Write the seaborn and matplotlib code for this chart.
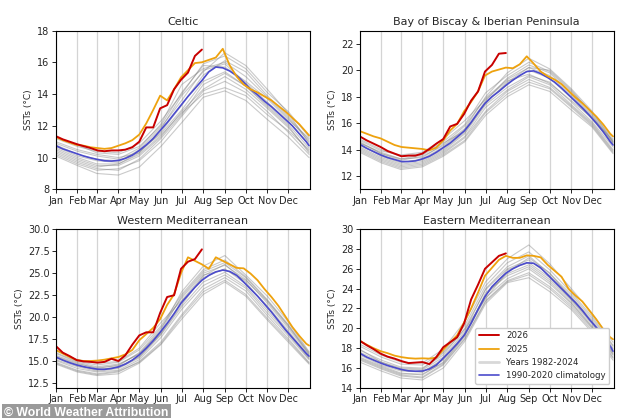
import pandas as pd
import matplotlib
matplotlib.use('Agg')
import matplotlib.pyplot as plt
from matplotlib.lines import Line2D
import seaborn as sns

# Données (jour de l'année -> SST en °C)
days = [0, 10, 20, 30, 40, 50, 60, 70, 80, 90, 100, 110, 120, 130, 140, 150, 160, 170,
        180, 190, 200, 210, 220, 230, 240, 250, 260, 270, 280, 290, 300, 310, 320, 330,
        340, 350, 360, 364]
month_days = [0, 31, 59, 90, 120, 151, 181, 212, 243, 273, 304, 334, 364]
month_ticks = [0, 31, 59, 90, 120, 151, 181, 212, 243, 273, 304, 334]
month_labels = ['Jan', 'Feb', 'Mar', 'Apr', 'May', 'Jun', 'Jul', 'Aug', 'Sep', 'Oct', 'Nov', 'Dec']

# --- Celtic
celtic_clim = [10.75, 10.55, 10.4, 10.25, 10.1, 9.98, 9.88, 9.8, 9.78, 9.82,
               9.95, 10.15, 10.45, 10.8, 11.2, 11.7, 12.2, 12.75, 13.3, 13.85,
               14.35, 14.85, 15.4, 15.7, 15.65, 15.45, 15.15, 14.75, 14.3, 13.95,
               13.55, 13.2, 12.8, 12.4, 12.0, 11.5, 11.0, 10.75]
celtic_2025 = [11.3, 11.1, 10.95, 10.8, 10.75, 10.65, 10.6, 10.55, 10.6, 10.75,
               10.9, 11.1, 11.45, 12.15, 13.0, 13.9, 13.6, 14.3, 15.05, 15.5,
               15.95, 16.0, 16.15, 16.3, 16.85, 15.8, 15.1, 14.6, 14.3, 14.1,
               13.85, 13.6, 13.25, 12.9, 12.5, 12.1, 11.6, 11.4]
celtic_2026 = [11.35, 11.15, 11.0, 10.85, 10.72, 10.6, 10.45, 10.4, 10.45, 10.45,
               10.5, 10.65, 11.0, 11.9, 11.9, 13.1, 13.3, 14.3, 14.9, 15.35,
               16.4, 16.8]
celtic_years = [
    [11.2, 10.7, 10.4, 10.3, 10.9, 12.3, 14.0, 15.9, 16.4, 15.6, 14.1, 12.9, 11.3],
    [10.2, 9.6, 9.2, 9.3, 9.8, 11.0, 12.6, 14.2, 14.8, 14.1, 12.9, 11.6, 10.2],
    [10.9, 10.4, 10.1, 9.9, 10.6, 12.1, 14.6, 15.6, 16.0, 15.1, 13.8, 12.5, 11.0],
    [10.5, 9.9, 9.5, 9.5, 10.1, 11.3, 12.9, 14.3, 15.1, 14.3, 13.1, 11.9, 10.4],
    [11.0, 10.5, 10.2, 10.0, 10.3, 11.6, 13.3, 15.2, 16.1, 15.4, 13.9, 12.6, 11.1],
    [10.1, 9.5, 9.0, 8.9, 9.4, 10.7, 12.2, 13.8, 14.2, 13.6, 12.4, 11.3, 10.0],
    [10.7, 10.1, 9.8, 9.7, 10.5, 11.9, 13.6, 15.5, 15.9, 14.7, 13.5, 12.3, 10.8],
    [10.4, 9.8, 9.4, 9.6, 10.2, 11.4, 12.8, 14.0, 14.4, 13.9, 12.7, 11.7, 10.5],
    [11.3, 10.8, 10.3, 10.2, 10.7, 12.0, 14.1, 15.8, 15.7, 14.8, 13.7, 12.4, 11.2],
    [10.3, 9.7, 9.3, 9.2, 9.9, 11.2, 12.7, 14.6, 15.3, 14.5, 13.2, 12.0, 10.3],
    [10.6, 10.0, 9.6, 9.6, 10.3, 11.8, 13.9, 15.4, 16.6, 15.8, 14.3, 12.8, 10.9],
    [10.8, 10.2, 9.9, 9.8, 10.4, 11.5, 13.0, 14.8, 15.4, 14.5, 13.3, 12.1, 10.6],
]

# --- Bay of Biscay & Iberian Peninsula
biscay_clim = [14.4, 14.1, 13.85, 13.6, 13.4, 13.25, 13.1, 13.1, 13.15, 13.3,
               13.5, 13.8, 14.15, 14.5, 14.95, 15.4, 16.05, 16.8, 17.5, 18.0,
               18.4, 18.85, 19.25, 19.6, 19.9, 19.95, 19.75, 19.45, 19.1, 18.65,
               18.15, 17.65, 17.15, 16.6, 16.0, 15.35, 14.6, 14.35]
biscay_2025 = [15.4, 15.2, 15.0, 14.85, 14.6, 14.35, 14.2, 14.15, 14.1, 14.05,
               13.95, 14.15, 14.7, 15.45, 15.95, 16.9, 17.6, 18.4, 19.6, 19.9,
               20.05, 20.2, 20.15, 20.45, 21.05, 20.5, 19.9, 19.55, 19.3, 18.95,
               18.45, 17.95, 17.5, 17.0, 16.5, 15.9, 15.2, 15.0]
biscay_2026 = [15.0, 14.7, 14.45, 14.2, 13.9, 13.7, 13.5, 13.55, 13.55, 13.7,
               14.05, 14.45, 14.8, 15.75, 15.95, 16.7, 17.7, 18.4, 19.9, 20.4,
               21.25, 21.3]
biscay_years = [
    [14.8, 14.0, 13.5, 13.7, 14.6, 15.9, 18.3, 19.6, 20.6, 19.9, 18.4, 16.8, 14.8],
    [13.9, 13.1, 12.6, 12.8, 13.6, 14.7, 16.8, 18.2, 19.1, 18.6, 17.2, 15.8, 13.8],
    [14.5, 13.8, 13.3, 13.4, 14.4, 15.8, 17.9, 19.3, 20.2, 19.6, 18.1, 16.5, 14.5],
    [14.1, 13.3, 12.8, 13.0, 13.8, 15.0, 17.2, 18.5, 19.5, 18.9, 17.4, 16.0, 14.0],
    [14.6, 13.7, 13.2, 13.5, 14.3, 15.6, 18.0, 19.8, 20.9, 20.1, 18.6, 16.9, 14.6],
    [14.0, 13.2, 12.7, 12.9, 13.7, 14.9, 16.9, 18.4, 19.3, 18.7, 17.3, 15.9, 13.9],
    [14.3, 13.6, 13.1, 13.2, 14.0, 15.3, 17.6, 19.0, 20.0, 19.4, 17.9, 16.3, 14.4],
    [14.7, 13.9, 13.6, 13.8, 14.8, 16.2, 17.8, 19.2, 19.7, 19.0, 17.7, 16.4, 14.7],
    [14.2, 13.4, 12.9, 13.1, 13.9, 15.2, 17.4, 18.7, 19.6, 19.1, 17.6, 16.1, 14.2],
    [14.4, 13.5, 13.0, 13.3, 14.2, 15.5, 17.7, 19.4, 20.4, 19.8, 18.2, 16.6, 14.5],
    [13.8, 13.0, 12.5, 12.7, 13.5, 14.6, 16.6, 18.0, 18.9, 18.4, 17.0, 15.7, 13.7],
    [14.5, 13.7, 13.3, 13.6, 14.5, 15.4, 17.5, 19.1, 20.2, 20.0, 18.5, 16.7, 14.6],
]

# --- Western Mediterranean
wmed_clim = [15.5, 15.15, 14.85, 14.6, 14.4, 14.25, 14.12, 14.1, 14.2, 14.38,
             14.7, 15.15, 15.75, 16.5, 17.35, 18.3, 19.3, 20.4, 21.6, 22.5,
             23.4, 24.2, 24.75, 25.15, 25.35, 25.2, 24.75, 24.0, 23.2, 22.4,
             21.5, 20.6, 19.6, 18.6, 17.7, 16.8, 15.9, 15.6]
wmed_2025 = [16.3, 15.9, 15.5, 15.15, 15.05, 15.05, 15.1, 15.2, 15.35, 15.5,
             15.8, 16.3, 17.4, 18.1, 18.8, 19.8, 21.4, 22.6, 25.0, 26.8,
             26.4, 26.0, 25.5, 26.8, 26.4, 26.0, 25.6, 25.55, 24.95, 24.2,
             23.2, 22.3, 21.3, 20.1, 18.9, 17.9, 17.0, 16.8]
wmed_2026 = [16.75, 16.0, 15.6, 15.15, 15.0, 14.95, 14.87, 14.95, 15.3, 15.05,
             15.7, 16.9, 17.95, 18.3, 18.3, 20.5, 22.3, 22.5, 25.5, 26.3,
             26.6, 27.7]
wmed_years = [
    [16.0, 15.0, 14.6, 14.9, 16.3, 19.0, 22.6, 25.4, 26.5, 24.6, 22.0, 19.2, 16.0],
    [14.8, 13.9, 13.5, 13.8, 15.0, 17.2, 20.3, 23.2, 24.5, 23.0, 20.2, 17.6, 14.9],
    [15.6, 14.7, 14.3, 14.5, 16.0, 18.8, 22.2, 25.0, 25.9, 24.3, 21.6, 18.8, 15.7],
    [15.1, 14.2, 13.8, 14.0, 15.2, 17.7, 20.9, 23.6, 24.8, 23.3, 20.5, 17.9, 15.2],
    [15.9, 14.9, 14.4, 14.7, 15.8, 18.6, 22.9, 25.8, 27.0, 24.8, 22.4, 19.5, 16.1],
    [14.9, 14.0, 13.6, 13.9, 14.9, 17.0, 20.1, 22.9, 24.2, 22.6, 19.9, 17.4, 14.8],
    [15.4, 14.5, 14.1, 14.3, 15.6, 18.2, 21.8, 24.5, 25.5, 23.8, 21.3, 18.5, 15.5],
    [16.2, 15.2, 14.8, 15.0, 16.5, 19.4, 21.9, 24.8, 25.4, 24.2, 21.8, 19.0, 15.9],
    [15.2, 14.4, 13.9, 14.2, 15.4, 18.0, 21.2, 24.0, 25.1, 23.5, 20.8, 18.1, 15.3],
    [15.7, 14.8, 14.2, 14.6, 15.9, 18.4, 22.4, 25.2, 26.2, 24.5, 21.9, 19.1, 15.8],
    [14.7, 13.8, 13.4, 13.6, 14.8, 16.9, 19.8, 22.6, 24.0, 22.4, 19.7, 17.2, 14.7],
    [15.5, 14.6, 14.0, 14.4, 15.5, 18.1, 21.4, 24.7, 26.0, 24.0, 21.1, 18.3, 15.4],
]

# --- Eastern Mediterranean
emed_clim = [17.5, 17.1, 16.8, 16.5, 16.25, 16.05, 15.85, 15.72, 15.68, 15.7,
             15.9, 16.3, 17.0, 17.7, 18.45, 19.3, 20.5, 21.9, 23.2, 24.2,
             24.9, 25.55, 26.0, 26.35, 26.6, 26.55, 26.1, 25.4, 24.7, 24.0,
             23.3, 22.6, 21.8, 20.9, 20.1, 19.2, 18.2, 17.7]
emed_2025 = [18.75, 18.35, 18.0, 17.7, 17.5, 17.25, 17.1, 17.0, 16.95, 16.98,
             16.95, 17.05, 17.85, 18.6, 19.3, 20.6, 22.0, 23.6, 25.3, 26.1,
             26.9, 27.3, 27.1, 27.1, 27.35, 27.3, 27.15, 26.4, 25.8, 25.2,
             24.0, 23.3, 22.7, 21.8, 20.9, 19.9, 19.1, 18.9]
emed_2026 = [18.75, 18.3, 17.9, 17.45, 17.15, 16.95, 16.7, 16.5, 16.55, 16.6,
             16.4, 17.1, 18.1, 18.6, 19.1, 20.5, 22.9, 24.4, 26.0, 26.65,
             27.3, 27.55]
emed_years = [
    [18.2, 17.1, 16.4, 16.3, 17.6, 20.3, 24.3, 26.6, 27.7, 25.9, 23.6, 21.2, 18.3],
    [16.8, 15.9, 15.2, 15.0, 16.3, 18.9, 22.7, 24.7, 25.4, 24.0, 22.1, 19.8, 17.0],
    [17.8, 16.8, 16.1, 16.0, 17.3, 20.0, 23.9, 26.0, 26.9, 25.3, 23.2, 20.8, 18.0],
    [17.1, 16.2, 15.5, 15.3, 16.6, 19.3, 23.1, 25.0, 26.0, 24.5, 22.5, 20.1, 17.3],
    [18.4, 17.3, 16.6, 16.5, 17.9, 20.7, 24.7, 27.0, 28.4, 26.5, 24.0, 21.5, 18.6],
    [16.6, 15.7, 15.0, 14.8, 16.0, 18.7, 22.5, 24.6, 25.1, 23.7, 21.9, 19.6, 16.8],
    [17.4, 16.5, 15.8, 15.6, 16.9, 19.5, 23.4, 25.5, 26.4, 24.9, 22.8, 20.4, 17.6],
    [17.9, 16.6, 16.0, 15.9, 17.5, 19.9, 23.0, 25.7, 27.1, 25.6, 23.0, 20.6, 17.9],
    [17.0, 16.1, 15.4, 15.4, 16.5, 19.2, 23.6, 25.3, 26.2, 24.7, 22.6, 20.2, 17.4],
    [17.6, 16.6, 15.9, 15.8, 17.1, 19.7, 24.0, 26.2, 27.3, 25.5, 23.4, 21.0, 18.2],
    [16.9, 16.0, 15.3, 15.1, 16.4, 19.0, 22.8, 24.8, 25.6, 24.2, 22.3, 20.0, 17.1],
    [17.3, 16.3, 15.7, 15.6, 16.8, 19.4, 23.3, 25.9, 26.6, 25.1, 22.9, 20.6, 17.5],
]

# Style
sns.set_style("ticks")
plt.rcParams['font.family'] = 'DejaVu Sans'

RED = '#c80000'
ORANGE = '#eea20e'
BLUE = '#4b4bcc'

panels = [
    ('Celtic', celtic_clim, celtic_2025, celtic_2026, celtic_years,
     (8, 18), [8, 10, 12, 14, 16, 18], '{:.0f}'),
    ('Bay of Biscay & Iberian Peninsula', biscay_clim, biscay_2025, biscay_2026, biscay_years,
     (11, 23), [12, 14, 16, 18, 20, 22], '{:.0f}'),
    ('Western Mediterranean', wmed_clim, wmed_2025, wmed_2026, wmed_years,
     (12, 30), [12.5, 15, 17.5, 20, 22.5, 25, 27.5, 30], '{:.1f}'),
    ('Eastern Mediterranean', emed_clim, emed_2025, emed_2026, emed_years,
     (14, 30), [14, 16, 18, 20, 22, 24, 26, 28, 30], '{:.0f}'),
]

fig, axes = plt.subplots(2, 2, figsize=(6.34, 4.18), dpi=100)
fig.subplots_adjust(left=0.088, right=0.968, bottom=0.072, top=0.927,
                    wspace=0.197, hspace=0.25)

for ax, (title, clim, y2025, y2026, years, ylim, yticks, fmt) in zip(axes.flat, panels):
    # Années 1982-2024 en format long
    rows = []
    for i, serie in enumerate(years):
        for d, v in zip(month_days, serie):
            rows.append({'year': i, 'day': d, 'sst': v})
    df_years = pd.DataFrame(rows)

    sns.lineplot(data=df_years, x='day', y='sst', units='year', estimator=None,
                 color='#7a7a7a', alpha=0.4, linewidth=0.8, legend=False, ax=ax)
    sns.lineplot(x=days, y=clim, color=BLUE, linewidth=1.2, ax=ax)
    sns.lineplot(x=days, y=y2025, color=ORANGE, linewidth=1.3, ax=ax)
    sns.lineplot(x=days[:len(y2026)], y=y2026, color=RED, linewidth=1.4, ax=ax)

    ax.set_xlim(0, 365)
    ax.set_ylim(*ylim)
    ax.set_xticks(month_ticks)
    ax.set_xticklabels(month_labels)
    ax.set_yticks(yticks)
    ax.set_yticklabels([fmt.format(t) for t in yticks])
    ax.tick_params(labelsize=7, length=3, width=0.7, pad=1.5)
    ax.xaxis.grid(True, color='#d4d4d4', linewidth=0.9)
    ax.set_axisbelow(True)
    ax.set_title(title, fontsize=8, pad=4)
    ax.set_xlabel('')
    ax.set_ylabel('SSTs (°C)', fontsize=6.5, labelpad=3)
    for s in ax.spines.values():
        s.set_color('black')
        s.set_linewidth(0.8)

handles = [
    Line2D([], [], color=RED, linewidth=1.4),
    Line2D([], [], color=ORANGE, linewidth=1.3),
    Line2D([], [], color='#d8d8d8', linewidth=2),
    Line2D([], [], color=BLUE, linewidth=1.2),
]
axes[1, 1].legend(handles, ['2026', '2025', 'Years 1982-2024', '1990-2020 climatology'],
                  loc='lower right', fontsize=6.2, frameon=True, framealpha=1,
                  borderaxespad=0.5, handlelength=2.4)

fig.text(0.007, 0.006, '© World Weather Attribution', color='white', fontweight='bold',
         fontsize=8.8, family='Liberation Sans',
         bbox=dict(facecolor='#9a9a9a', edgecolor='none', pad=1.8))

plt.savefig('out.png', dpi=100)
